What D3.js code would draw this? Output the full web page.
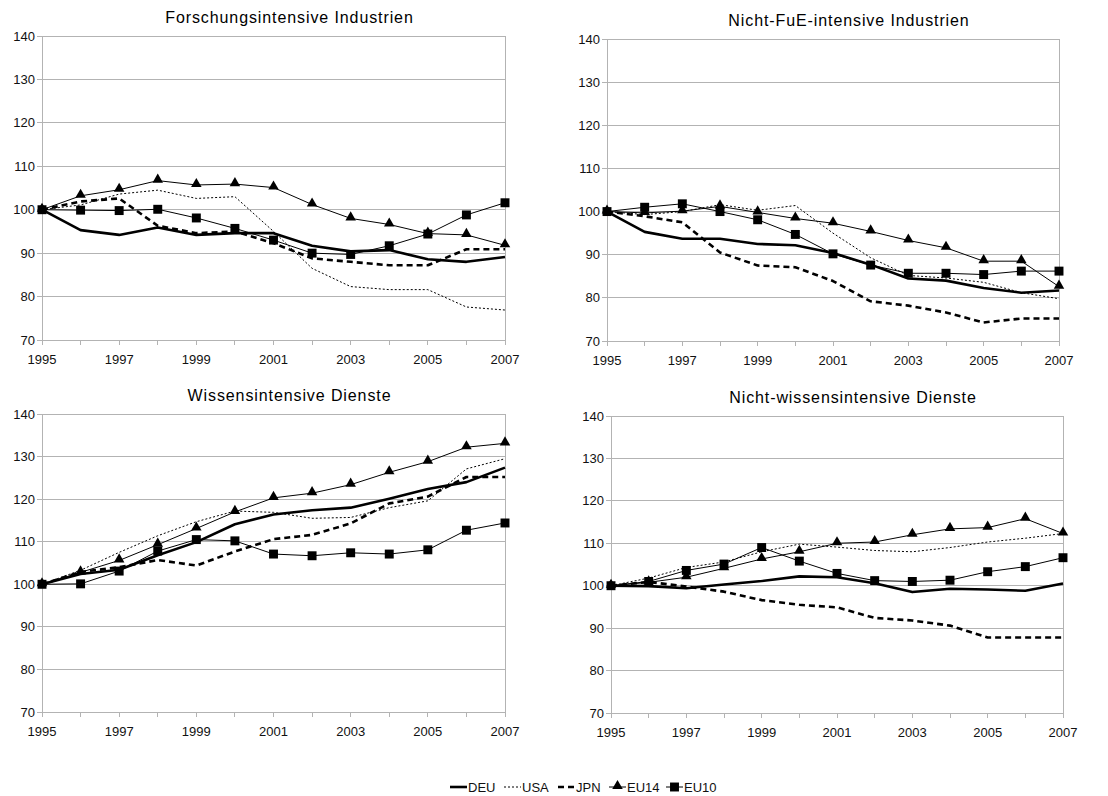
<!DOCTYPE html>
<html>
<head>
<meta charset="utf-8">
<script src="https://cdn.jsdelivr.net/npm/d3@7"></script>
<style>
  body { margin: 0; background: #fff; }
  svg { font-family: "Liberation Sans", Arial, sans-serif; }
</style>
</head>
<body>
<div id="chart"></div>
<script>
// years on the x axis
const years = [1995, 1996, 1997, 1998, 1999, 2000, 2001, 2002, 2003, 2004, 2005, 2006, 2007];
const yearTicks = [1995, 1997, 1999, 2001, 2003, 2005, 2007];
const valueTicks = [70, 80, 90, 100, 110, 120, 130, 140];
const seriesNames = ["DEU", "USA", "JPN", "EU14", "EU10"];
const panelTitles = ["Forschungsintensive Industrien", "Nicht-FuE-intensive Industrien",
                     "Wissensintensive Dienste", "Nicht-wissensintensive Dienste"];

// Forschungsintensive Industrien
const fiDEU  = [100, 95.3, 94.2, 95.9, 94.2, 94.6, 94.6, 91.7, 90.4, 90.7, 88.6, 88.0, 89.1];
const fiUSA  = [100, 101.1, 103.6, 104.5, 102.6, 103.0, 95.0, 86.5, 82.3, 81.6, 81.6, 77.6, 76.9];
const fiJPN  = [100, 101.9, 102.6, 96.3, 94.6, 95.0, 92.3, 88.8, 88.0, 87.2, 87.2, 90.9, 90.9];
const fiEU14 = [100, 103.2, 104.6, 106.7, 105.7, 105.9, 105.1, 101.2, 98.0, 96.6, 94.5, 94.2, 91.8];
const fiEU10 = [100, 99.9, 99.8, 100.1, 98.1, 95.7, 93.0, 90.0, 89.7, 91.7, 94.4, 98.8, 101.6];

// Nicht-FuE-intensive Industrien
const nfDEU  = [100, 95.3, 93.7, 93.7, 92.5, 92.2, 90.4, 87.7, 84.5, 84.0, 82.3, 81.2, 81.7];
const nfUSA  = [100, 99.3, 100.0, 101.6, 100.3, 101.4, 95.0, 89.3, 85.2, 84.6, 83.6, 81.2, 79.8];
const nfJPN  = [100, 98.9, 97.5, 90.5, 87.5, 87.1, 83.9, 79.2, 78.2, 76.6, 74.3, 75.2, 75.2];
const nfEU14 = [100, 99.7, 100.1, 101.2, 99.8, 98.4, 97.3, 95.4, 93.3, 91.6, 88.5, 88.5, 82.6];
const nfEU10 = [100, 101.0, 101.8, 100.0, 98.1, 94.7, 90.2, 87.6, 85.7, 85.7, 85.4, 86.2, 86.2];

// Wissensintensive Dienste
const wiDEU  = [100, 102.4, 103.4, 106.8, 109.9, 114.1, 116.4, 117.4, 118.0, 120.1, 122.4, 124.0, 127.4];
const wiUSA  = [100, 103.3, 107.5, 111.4, 114.7, 117.2, 116.9, 115.5, 115.7, 118.0, 119.6, 127.1, 129.5];
const wiJPN  = [100, 102.9, 104.0, 105.7, 104.4, 107.7, 110.6, 111.6, 114.3, 119.0, 120.6, 125.2, 125.2];
const wiEU14 = [100, 102.8, 105.6, 109.3, 113.1, 117.0, 120.3, 121.4, 123.4, 126.3, 128.8, 132.2, 133.1];
const wiEU10 = [100, 100.1, 103.1, 107.8, 110.5, 110.2, 107.1, 106.7, 107.4, 107.1, 108.1, 112.7, 114.4];

// Nicht-wissensintensive Dienste
const nwDEU  = [100, 99.9, 99.4, 100.3, 101.1, 102.2, 102.0, 100.6, 98.5, 99.3, 99.1, 98.8, 100.5];
const nwUSA  = [100, 101.8, 104.3, 105.6, 108.0, 109.8, 109.1, 108.3, 108.0, 109.0, 110.3, 111.2, 112.3];
const nwJPN  = [100, 100.9, 99.8, 98.6, 96.6, 95.5, 94.9, 92.4, 91.8, 90.6, 87.8, 87.8, 87.8];
const nwEU14 = [100, 100.8, 102.0, 104.1, 106.3, 108.0, 110.0, 110.3, 112.0, 113.4, 113.7, 115.8, 112.3];
const nwEU10 = [100, 101.0, 103.6, 105.1, 109.0, 105.8, 102.9, 101.2, 101.0, 101.3, 103.3, 104.5, 106.6];

const panelData = [
  [fiDEU, fiUSA, fiJPN, fiEU14, fiEU10],
  [nfDEU, nfUSA, nfJPN, nfEU14, nfEU10],
  [wiDEU, wiUSA, wiJPN, wiEU14, wiEU10],
  [nwDEU, nwUSA, nwJPN, nwEU14, nwEU10]
];

// line style per series
const styles = {
  DEU:  { width: 2.6, dash: null,  marker: null },
  USA:  { width: 1,   dash: "2,2", marker: null },
  JPN:  { width: 2.6, dash: "6,4", marker: null },
  EU14: { width: 1,   dash: null,  marker: "triangle" },
  EU10: { width: 1,   dash: null,  marker: "square" }
};

// panel boxes: left, right, top, bottom
const boxes = [
  [42, 505, 36, 340],
  [607, 1059, 39, 341],
  [42, 505, 414, 712],
  [611, 1063, 416, 713]
];

const width = 1108, height = 796;
const gridColor = "#b3b3b3";

const svg = d3.select("#chart")
  .append("svg")
  .attr("width", width)
  .attr("height", height);

const triangle = d3.symbol().type(d3.symbolTriangle).size(48);
const square = d3.symbol().type(d3.symbolSquare).size(80);

function drawMarker(g, kind, x, y) {
  g.append("path")
    .attr("d", kind == "triangle" ? triangle() : square())
    .attr("transform", "translate(" + x + "," + (kind == "triangle" ? y - 1 : y) + ")")
    .attr("fill", "#000");
}

for (let p = 0; p < 4; p++) {
  const [x0, x1, y0, y1] = boxes[p];
  const x = d3.scaleLinear().domain([1995, 2007]).range([x0, x1]);
  const y = d3.scaleLinear().domain([70, 140]).range([y1, y0]);
  const g = svg.append("g");

  // grid
  g.selectAll(".grid")
    .data(valueTicks)
    .enter()
    .append("line")
    .attr("x1", x0 - 5).attr("x2", x1)
    .attr("y1", d => y(d)).attr("y2", d => y(d))
    .attr("stroke", gridColor)
    .attr("stroke-width", 1)
    .attr("shape-rendering", "crispEdges");

  // left + right borders
  [x0, x1].forEach(function (xx) {
    g.append("line")
      .attr("x1", xx).attr("x2", xx)
      .attr("y1", y0).attr("y2", y1)
      .attr("stroke", gridColor)
      .attr("shape-rendering", "crispEdges");
  });

  // x ticks
  g.selectAll(".xtick")
    .data(years)
    .enter()
    .append("line")
    .attr("x1", d => x(d)).attr("x2", d => x(d))
    .attr("y1", y1).attr("y2", y1 + 5)
    .attr("stroke", gridColor)
    .attr("shape-rendering", "crispEdges");

  // tick labels
  g.selectAll(".xlab")
    .data(yearTicks)
    .enter()
    .append("text")
    .attr("x", d => x(d))
    .attr("y", y1 + 24)
    .attr("text-anchor", "middle")
    .attr("font-size", 13)
    .attr("fill", "#111")
    .text(d => d);

  g.selectAll(".ylab")
    .data(valueTicks)
    .enter()
    .append("text")
    .attr("x", x0 - 7)
    .attr("y", d => y(d) + 4.5)
    .attr("text-anchor", "end")
    .attr("font-size", 13)
    .attr("fill", "#111")
    .text(d => d);

  // title
  g.append("text")
    .attr("x", (x0 + x1) / 2 + 16)
    .attr("y", y0 - 13)
    .attr("text-anchor", "middle")
    .attr("font-size", 16)
    .attr("letter-spacing", 0.9)
    .attr("fill", "#000")
    .text(panelTitles[p]);

  const line = d3.line()
    .x((d, i) => x(years[i]))
    .y(d => y(d));

  // draw series in back-to-front order
  const order = [1, 2, 3, 4, 0];
  order.forEach(function (s) {
    const st = styles[seriesNames[s]];
    const vals = panelData[p][s];
    g.append("path")
      .datum(vals)
      .attr("d", line)
      .attr("fill", "none")
      .attr("stroke", "#000")
      .attr("stroke-width", st.width)
      .attr("stroke-dasharray", st.dash)
      .attr("stroke-linejoin", "round");
    if (st.marker) {
      vals.forEach(function (v, i) {
        drawMarker(g, st.marker, x(years[i]), y(v));
      });
    }
  });
}

// legend
const legend = svg.append("g").attr("transform", "translate(0,787)");
const legendX = [450, 504, 558, 609, 666];
seriesNames.forEach(function (name, i) {
  const st = styles[name];
  const lx = legendX[i];
  legend.append("line")
    .attr("x1", lx).attr("x2", lx + 17)
    .attr("y1", 0).attr("y2", 0)
    .attr("stroke", "#000")
    .attr("stroke-width", st.width)
    .attr("stroke-dasharray", st.dash);
  if (st.marker) {
    drawMarker(legend, st.marker, lx + 8.5, 0);
  }
  legend.append("text")
    .attr("x", lx + 18)
    .attr("y", 4.5)
    .attr("font-size", 13)
    .attr("fill", "#111")
    .text(name);
});
</script>
</body>
</html>
